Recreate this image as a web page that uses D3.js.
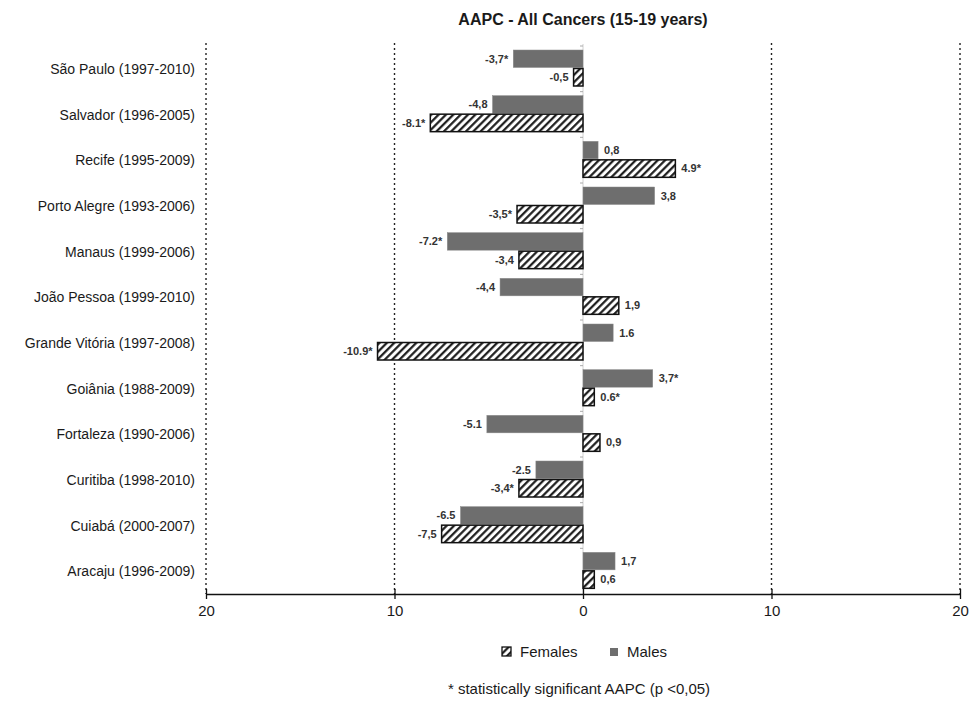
<!DOCTYPE html>
<html lang="en">
<head>
<meta charset="utf-8">
<title>AAPC - All Cancers (15-19 years)</title>
<script src="https://cdn.jsdelivr.net/npm/d3@7"></script>
<style>
  body { margin: 0; background: #fff; }
  text { font-family: "Liberation Sans", Arial, sans-serif; }
</style>
</head>
<body>
<svg id="chart"></svg>
<script>
// data
var cities = ["São Paulo (1997-2010)", "Salvador (1996-2005)", "Recife (1995-2009)",
  "Porto Alegre (1993-2006)", "Manaus (1999-2006)", "João Pessoa (1999-2010)",
  "Grande Vitória (1997-2008)", "Goiânia (1988-2009)", "Fortaleza (1990-2006)",
  "Curitiba (1998-2010)", "Cuiabá (2000-2007)", "Aracaju (1996-2009)"];
var males = [-3.7, -4.8, 0.8, 3.8, -7.2, -4.4, 1.6, 3.7, -5.1, -2.5, -6.5, 1.7];
var females = [-0.5, -8.1, 4.9, -3.5, -3.4, 1.9, -10.9, 0.6, 0.9, -3.4, -7.5, 0.6];
var maleLabels = ["-3,7*", "-4,8", "0,8", "3,8", "-7.2*", "-4,4", "1.6", "3,7*", "-5.1", "-2.5", "-6.5", "1,7"];
var femaleLabels = ["-0,5", "-8.1*", "4.9*", "-3,5*", "-3,4", "1,9", "-10.9*", "0.6*", "0,9", "-3,4*", "-7,5", "0,6"];
var xTicks = [-20, -10, 0, 10, 20];

var width = 972, height = 703;
var svg = d3.select("#chart").attr("width", width).attr("height", height);

var x = d3.scaleLinear().domain([-20, 20]).range([206, 960]);
var y = d3.scaleBand().domain(cities).range([46, 594]);
var step = y.bandwidth();
var barH = 17.5;

// hatch pattern for females
var defs = svg.append("defs");
var pat = defs.append("pattern")
  .attr("id", "hatch")
  .attr("patternUnits", "userSpaceOnUse")
  .attr("width", 5.2)
  .attr("height", 5.2)
  .attr("patternTransform", "rotate(45)");
pat.append("rect").attr("width", 5.2).attr("height", 5.2).attr("fill", "#fff");
pat.append("line")
  .attr("x1", 1.2).attr("y1", 0).attr("x2", 1.2).attr("y2", 5.2)
  .attr("stroke", "#111").attr("stroke-width", 2.1);

// title
svg.append("text")
  .attr("x", 583).attr("y", 25)
  .attr("text-anchor", "middle")
  .style("font-size", "16px")
  .style("font-weight", "bold")
  .attr("fill", "#1a1a1a")
  .text("AAPC - All Cancers (15-19 years)");

// dotted gridlines
svg.selectAll(".grid")
  .data(xTicks.filter(d => d !== 0))
  .enter()
  .append("line")
  .attr("x1", d => x(d)).attr("x2", d => x(d))
  .attr("y1", 43).attr("y2", 594)
  .attr("stroke", "#222")
  .attr("stroke-width", 1.4)
  .attr("stroke-dasharray", "2,3");

// zero line with small ticks at category boundaries
svg.append("line")
  .attr("x1", x(0)).attr("x2", x(0))
  .attr("y1", 44).attr("y2", 594)
  .attr("stroke", "#d0d0d0").attr("stroke-width", 1);
svg.selectAll(".ztick")
  .data(d3.range(cities.length))
  .enter()
  .append("line")
  .attr("x1", x(0) - 3).attr("x2", x(0))
  .attr("y1", i => 46 + i * step).attr("y2", i => 46 + i * step)
  .attr("stroke", "#aaa").attr("stroke-width", 1);

// category labels
svg.selectAll(".cat")
  .data(cities)
  .enter()
  .append("text")
  .attr("x", 195)
  .attr("y", d => y(d) + 23)
  .attr("dy", "0.35em")
  .attr("text-anchor", "end")
  .style("font-size", "14px")
  .attr("fill", "#1a1a1a")
  .text(d => d);

// bars
var rows = cities.map((c, i) => ({ c: c, m: males[i], f: females[i], ml: maleLabels[i], fl: femaleLabels[i] }));

var g = svg.selectAll(".row").data(rows).enter().append("g");

g.append("rect")
  .attr("x", d => x(Math.min(0, d.m)))
  .attr("y", d => y(d.c) + 4)
  .attr("width", d => Math.abs(x(d.m) - x(0)))
  .attr("height", barH)
  .attr("fill", "#6e6e6e")
  .attr("stroke", "#8a8a8a")
  .attr("stroke-width", 0.5);

g.append("rect")
  .attr("x", d => x(Math.min(0, d.f)))
  .attr("y", d => y(d.c) + 4 + barH + 1)
  .attr("width", d => Math.abs(x(d.f) - x(0)))
  .attr("height", barH)
  .attr("fill", "url(#hatch)")
  .attr("stroke", "#111")
  .attr("stroke-width", 1.5);

// value labels
g.append("text")
  .attr("x", d => d.m < 0 ? x(d.m) - 5 : x(d.m) + 6)
  .attr("y", d => y(d.c) + 4 + barH / 2)
  .attr("dy", "0.35em")
  .attr("text-anchor", d => d.m < 0 ? "end" : "start")
  .style("font-size", "11px")
  .style("font-weight", "bold")
  .attr("fill", "#333")
  .text(d => d.ml);

g.append("text")
  .attr("x", d => d.f < 0 ? x(d.f) - 5 : x(d.f) + 6)
  .attr("y", d => y(d.c) + 5 + barH * 1.5)
  .attr("dy", "0.35em")
  .attr("text-anchor", d => d.f < 0 ? "end" : "start")
  .style("font-size", "11px")
  .style("font-weight", "bold")
  .attr("fill", "#333")
  .text(d => d.fl);

// x axis
var xAxis = d3.axisBottom(x)
  .tickValues(xTicks)
  .tickSize(0)
  .tickFormat(d => Math.abs(d));
var ax = svg.append("g")
  .attr("transform", "translate(0,594)")
  .call(xAxis);
ax.select(".domain").attr("stroke", "#111").attr("stroke-width", 1.5);
ax.selectAll(".tick line").remove();
ax.selectAll(".tick").append("line")
  .attr("y1", -5).attr("y2", 5)
  .attr("stroke", "#111").attr("stroke-width", 1.3);
ax.selectAll(".tick text")
  .attr("y", 17)
  .attr("dy", "0.35em")
  .style("font-size", "15px")
  .style("font-family", "\"Liberation Sans\", Arial, sans-serif")
  .attr("fill", "#1a1a1a");

// legend
var leg = svg.append("g").attr("transform", "translate(502,652)");
leg.append("rect")
  .attr("x", 0).attr("y", -5).attr("width", 9).attr("height", 9)
  .attr("fill", "url(#hatch)").attr("stroke", "#111").attr("stroke-width", 1.3);
leg.append("text")
  .attr("x", 18).attr("y", 0).attr("dy", "0.35em")
  .style("font-size", "15px").attr("fill", "#1a1a1a")
  .text("Females");
leg.append("rect")
  .attr("x", 108).attr("y", -4).attr("width", 8).attr("height", 8)
  .attr("fill", "#6e6e6e");
leg.append("text")
  .attr("x", 125).attr("y", 0).attr("dy", "0.35em")
  .style("font-size", "15px").attr("fill", "#1a1a1a")
  .text("Males");

// footnote
svg.append("text")
  .attr("x", 579).attr("y", 689)
  .attr("dy", "0.35em")
  .attr("text-anchor", "middle")
  .style("font-size", "15px")
  .attr("fill", "#1a1a1a")
  .text("* statistically significant AAPC (p <0,05)");
</script>
</body>
</html>
